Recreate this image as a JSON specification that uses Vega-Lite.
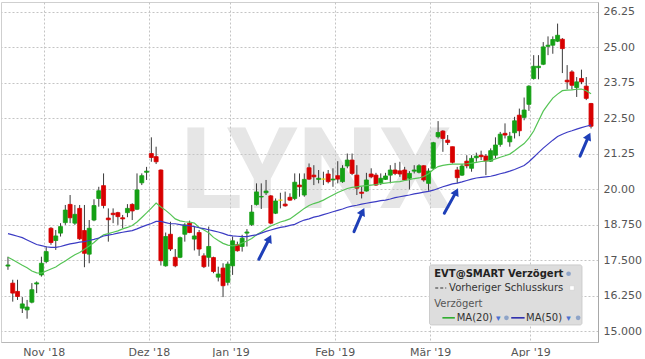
{
"$schema": "https://vega.github.io/schema/vega-lite/v6.json",
"width": 597, "height": 340,
"padding": {"left": 1, "top": 2, "right": 0, "bottom": 0},
"background": "white",
"config": {"view": {"stroke": "#cfcfcf", "strokeWidth": 1}, "font": "DejaVu Sans"},
"datasets": {
"candles": [
{"i":1,"o":17.30,"h":17.63,"l":17.17,"c":17.34,"ma20":17.61,"ma50":18.44},
{"i":2,"o":16.70,"h":16.82,"l":16.05,"c":16.35,"ma20":17.52,"ma50":18.40},
{"i":3,"o":16.41,"h":16.82,"l":16.11,"c":16.23,"ma20":17.43,"ma50":18.35},
{"i":4,"o":15.82,"h":16.21,"l":15.65,"c":15.97,"ma20":17.33,"ma50":18.30},
{"i":5,"o":15.76,"h":16.11,"l":15.45,"c":15.86,"ma20":17.24,"ma50":18.22},
{"i":6,"o":16.03,"h":16.70,"l":15.99,"c":16.47,"ma20":17.13,"ma50":18.14},
{"i":7,"o":16.67,"h":16.76,"l":16.35,"c":16.71,"ma20":17.06,"ma50":18.06},
{"i":8,"o":16.99,"h":17.63,"l":16.93,"c":17.40,"ma20":17.05,"ma50":18.02},
{"i":9,"o":17.46,"h":17.99,"l":17.40,"c":17.81,"ma20":17.13,"ma50":17.98},
{"i":10,"o":18.63,"h":18.67,"l":18.05,"c":18.13,"ma20":17.20,"ma50":17.96},
{"i":11,"o":18.20,"h":18.57,"l":17.87,"c":18.36,"ma20":17.27,"ma50":17.96},
{"i":12,"o":18.46,"h":18.81,"l":18.34,"c":18.69,"ma20":17.38,"ma50":17.99},
{"i":13,"o":18.83,"h":19.45,"l":18.75,"c":19.27,"ma20":17.48,"ma50":18.04},
{"i":14,"o":19.47,"h":19.80,"l":18.81,"c":19.00,"ma20":17.59,"ma50":18.08},
{"i":15,"o":18.81,"h":19.45,"l":18.75,"c":19.12,"ma20":17.70,"ma50":18.11},
{"i":16,"o":19.33,"h":19.45,"l":18.22,"c":18.26,"ma20":17.78,"ma50":18.14},
{"i":17,"o":18.55,"h":19.45,"l":17.26,"c":17.75,"ma20":17.89,"ma50":18.16},
{"i":18,"o":17.72,"h":18.92,"l":17.40,"c":18.63,"ma20":18.01,"ma50":18.20},
{"i":19,"o":18.92,"h":19.65,"l":18.88,"c":19.43,"ma20":18.13,"ma50":18.24},
{"i":20,"o":19.68,"h":20.09,"l":19.39,"c":19.95,"ma20":18.28,"ma50":18.29},
{"i":21,"o":20.13,"h":20.56,"l":19.33,"c":19.43,"ma20":18.40,"ma50":18.36},
{"i":22,"o":18.99,"h":19.33,"l":18.16,"c":18.93,"ma20":18.44,"ma50":18.39},
{"i":23,"o":19.16,"h":19.33,"l":18.81,"c":19.11,"ma20":18.49,"ma50":18.42},
{"i":24,"o":19.18,"h":19.21,"l":18.75,"c":19.04,"ma20":18.54,"ma50":18.46},
{"i":25,"o":19.00,"h":19.10,"l":18.63,"c":18.96,"ma20":18.61,"ma50":18.49},
{"i":26,"o":19.18,"h":19.48,"l":19.02,"c":19.33,"ma20":18.66,"ma50":18.52},
{"i":27,"o":19.47,"h":19.51,"l":18.92,"c":19.24,"ma20":18.73,"ma50":18.55},
{"i":28,"o":19.30,"h":20.56,"l":19.27,"c":19.98,"ma20":18.85,"ma50":18.61},
{"i":29,"o":20.23,"h":20.56,"l":20.15,"c":20.48,"ma20":19.01,"ma50":18.68},
{"i":30,"o":20.60,"h":20.79,"l":20.33,"c":20.64,"ma20":19.17,"ma50":18.74},
{"i":31,"o":21.26,"h":21.83,"l":20.97,"c":21.12,"ma20":19.34,"ma50":18.80},
{"i":32,"o":21.15,"h":21.50,"l":20.89,"c":20.97,"ma20":19.52,"ma50":18.87},
{"i":33,"o":20.68,"h":20.70,"l":17.32,"c":17.49,"ma20":19.38,"ma50":18.87},
{"i":34,"o":17.31,"h":18.48,"l":17.28,"c":18.34,"ma20":19.26,"ma50":18.83},
{"i":35,"o":18.42,"h":18.86,"l":17.83,"c":17.90,"ma20":19.12,"ma50":18.79},
{"i":36,"o":17.61,"h":17.90,"l":17.26,"c":17.31,"ma20":18.96,"ma50":18.79},
{"i":37,"o":17.61,"h":18.34,"l":17.58,"c":18.30,"ma20":18.89,"ma50":18.76},
{"i":38,"o":18.42,"h":18.81,"l":18.16,"c":18.75,"ma20":18.86,"ma50":18.73},
{"i":39,"o":18.81,"h":18.90,"l":18.46,"c":18.48,"ma20":18.85,"ma50":18.72},
{"i":40,"o":18.25,"h":18.69,"l":17.85,"c":18.36,"ma20":18.81,"ma50":18.69},
{"i":41,"o":18.48,"h":18.57,"l":17.66,"c":17.90,"ma20":18.66,"ma50":18.65},
{"i":42,"o":17.66,"h":17.75,"l":17.23,"c":17.28,"ma20":18.57,"ma50":18.62},
{"i":43,"o":17.61,"h":18.69,"l":17.28,"c":17.99,"ma20":18.47,"ma50":18.58},
{"i":44,"o":17.60,"h":17.63,"l":17.05,"c":17.11,"ma20":18.31,"ma50":18.54},
{"i":45,"o":16.91,"h":17.28,"l":16.76,"c":17.02,"ma20":18.20,"ma50":18.50},
{"i":46,"o":17.23,"h":17.40,"l":16.21,"c":16.61,"ma20":18.10,"ma50":18.45},
{"i":47,"o":16.73,"h":17.46,"l":16.62,"c":17.37,"ma20":18.04,"ma50":18.39},
{"i":48,"o":17.31,"h":18.34,"l":16.99,"c":18.19,"ma20":18.01,"ma50":18.36},
{"i":49,"o":18.05,"h":18.16,"l":17.81,"c":17.84,"ma20":18.04,"ma50":18.35},
{"i":50,"o":17.99,"h":18.40,"l":17.81,"c":18.28,"ma20":18.11,"ma50":18.34},
{"i":51,"o":18.46,"h":18.60,"l":17.99,"c":18.50,"ma20":18.18,"ma50":18.34},
{"i":52,"o":18.76,"h":19.45,"l":18.71,"c":19.20,"ma20":18.27,"ma50":18.37},
{"i":53,"o":19.47,"h":20.21,"l":19.43,"c":19.91,"ma20":18.40,"ma50":18.40},
{"i":54,"o":19.73,"h":20.21,"l":19.31,"c":19.75,"ma20":18.50,"ma50":18.46},
{"i":55,"o":19.88,"h":20.33,"l":19.80,"c":19.94,"ma20":18.61,"ma50":18.52},
{"i":56,"o":19.77,"h":19.80,"l":18.77,"c":18.81,"ma20":18.71,"ma50":18.57},
{"i":57,"o":19.16,"h":19.68,"l":19.13,"c":19.59,"ma20":18.78,"ma50":18.62},
{"i":58,"o":19.62,"h":19.88,"l":19.33,"c":19.62,"ma20":18.85,"ma50":18.66},
{"i":59,"o":19.48,"h":19.92,"l":19.39,"c":19.42,"ma20":18.90,"ma50":18.69},
{"i":60,"o":19.72,"h":19.86,"l":19.60,"c":19.62,"ma20":18.96,"ma50":18.73},
{"i":61,"o":19.68,"h":20.56,"l":19.62,"c":20.25,"ma20":19.08,"ma50":18.77},
{"i":62,"o":20.15,"h":20.56,"l":19.74,"c":20.09,"ma20":19.20,"ma50":18.85},
{"i":63,"o":19.80,"h":20.56,"l":19.74,"c":20.35,"ma20":19.33,"ma50":18.92},
{"i":64,"o":20.76,"h":20.91,"l":20.33,"c":20.36,"ma20":19.43,"ma50":18.96},
{"i":65,"o":20.50,"h":20.85,"l":20.15,"c":20.44,"ma20":19.50,"ma50":19.02},
{"i":66,"o":20.35,"h":20.68,"l":20.21,"c":20.39,"ma20":19.55,"ma50":19.06},
{"i":67,"o":20.36,"h":20.62,"l":20.15,"c":20.36,"ma20":19.62,"ma50":19.11},
{"i":68,"o":20.54,"h":20.68,"l":20.21,"c":20.27,"ma20":19.71,"ma50":19.16},
{"i":69,"o":20.33,"h":20.74,"l":20.09,"c":20.36,"ma20":19.80,"ma50":19.21},
{"i":70,"o":20.48,"h":20.99,"l":20.21,"c":20.36,"ma20":19.89,"ma50":19.26},
{"i":71,"o":20.27,"h":20.85,"l":20.23,"c":20.74,"ma20":19.96,"ma50":19.31},
{"i":72,"o":20.82,"h":21.26,"l":20.74,"c":21.03,"ma20":20.03,"ma50":19.37},
{"i":73,"o":21.03,"h":21.26,"l":20.50,"c":20.56,"ma20":20.07,"ma50":19.41},
{"i":74,"o":20.50,"h":20.85,"l":19.80,"c":20.04,"ma20":20.09,"ma50":19.44},
{"i":75,"o":19.90,"h":20.09,"l":19.68,"c":19.86,"ma20":20.11,"ma50":19.48},
{"i":76,"o":19.94,"h":20.58,"l":19.92,"c":20.33,"ma20":20.13,"ma50":19.51},
{"i":77,"o":20.54,"h":20.74,"l":20.39,"c":20.44,"ma20":20.15,"ma50":19.54},
{"i":78,"o":20.50,"h":20.58,"l":20.12,"c":20.15,"ma20":20.17,"ma50":19.57},
{"i":79,"o":20.23,"h":20.56,"l":20.15,"c":20.39,"ma20":20.20,"ma50":19.60},
{"i":80,"o":20.35,"h":20.58,"l":20.33,"c":20.47,"ma20":20.22,"ma50":19.62},
{"i":81,"o":20.50,"h":20.85,"l":20.21,"c":20.68,"ma20":20.24,"ma50":19.66},
{"i":82,"o":20.68,"h":20.93,"l":20.50,"c":20.56,"ma20":20.26,"ma50":19.71},
{"i":83,"o":20.65,"h":20.97,"l":20.44,"c":20.54,"ma20":20.27,"ma50":19.74},
{"i":84,"o":20.68,"h":20.79,"l":20.33,"c":20.33,"ma20":20.31,"ma50":19.77},
{"i":85,"o":20.39,"h":20.64,"l":20.00,"c":20.56,"ma20":20.34,"ma50":19.80},
{"i":86,"o":20.64,"h":20.85,"l":20.56,"c":20.68,"ma20":20.38,"ma50":19.84},
{"i":87,"o":20.60,"h":20.88,"l":20.56,"c":20.83,"ma20":20.40,"ma50":19.87},
{"i":88,"o":20.83,"h":20.85,"l":20.27,"c":20.33,"ma20":20.45,"ma50":19.90},
{"i":89,"o":20.21,"h":20.74,"l":19.95,"c":20.64,"ma20":20.55,"ma50":19.93},
{"i":90,"o":20.74,"h":21.67,"l":20.68,"c":21.64,"ma20":20.70,"ma50":19.97},
{"i":91,"o":21.85,"h":22.40,"l":21.79,"c":22.00,"ma20":20.80,"ma50":20.03},
{"i":92,"o":22.05,"h":22.08,"l":21.32,"c":21.79,"ma20":20.84,"ma50":20.09},
{"i":93,"o":21.73,"h":21.91,"l":21.56,"c":21.65,"ma20":20.87,"ma50":20.14},
{"i":94,"o":21.50,"h":21.50,"l":20.91,"c":20.95,"ma20":20.89,"ma50":20.19},
{"i":95,"o":20.68,"h":20.79,"l":20.21,"c":20.41,"ma20":20.89,"ma50":20.22},
{"i":96,"o":20.50,"h":20.89,"l":20.47,"c":20.82,"ma20":20.89,"ma50":20.26},
{"i":97,"o":20.99,"h":21.20,"l":20.74,"c":20.83,"ma20":20.90,"ma50":20.31},
{"i":98,"o":20.74,"h":21.20,"l":20.62,"c":21.09,"ma20":20.92,"ma50":20.36},
{"i":99,"o":21.11,"h":21.29,"l":20.97,"c":21.17,"ma20":20.95,"ma50":20.40},
{"i":100,"o":21.20,"h":21.36,"l":21.03,"c":21.15,"ma20":20.98,"ma50":20.42},
{"i":101,"o":21.17,"h":21.24,"l":20.50,"c":21.00,"ma20":20.99,"ma50":20.44},
{"i":102,"o":20.99,"h":21.44,"l":20.97,"c":21.36,"ma20":21.02,"ma50":20.46},
{"i":103,"o":21.20,"h":21.83,"l":21.09,"c":21.56,"ma20":21.07,"ma50":20.50},
{"i":104,"o":21.58,"h":22.02,"l":21.50,"c":21.94,"ma20":21.13,"ma50":20.55},
{"i":105,"o":21.97,"h":22.32,"l":21.79,"c":21.91,"ma20":21.18,"ma50":20.59},
{"i":106,"o":21.67,"h":22.02,"l":21.50,"c":21.87,"ma20":21.24,"ma50":20.64},
{"i":107,"o":21.99,"h":22.55,"l":21.79,"c":22.41,"ma20":21.36,"ma50":20.70},
{"i":108,"o":22.61,"h":22.84,"l":21.87,"c":22.06,"ma20":21.49,"ma50":20.77},
{"i":109,"o":22.53,"h":23.23,"l":22.43,"c":22.79,"ma20":21.61,"ma50":20.84},
{"i":110,"o":22.99,"h":23.66,"l":22.76,"c":23.63,"ma20":21.80,"ma50":20.97},
{"i":111,"o":23.90,"h":24.72,"l":23.86,"c":24.33,"ma20":22.05,"ma50":21.13},
{"i":112,"o":24.28,"h":24.72,"l":23.87,"c":24.33,"ma20":22.40,"ma50":21.29},
{"i":113,"o":24.40,"h":25.18,"l":24.37,"c":25.01,"ma20":22.75,"ma50":21.45},
{"i":114,"o":25.03,"h":25.38,"l":24.72,"c":25.07,"ma20":22.99,"ma50":21.59},
{"i":115,"o":25.07,"h":25.38,"l":24.77,"c":25.27,"ma20":23.21,"ma50":21.73},
{"i":116,"o":25.21,"h":25.83,"l":25.18,"c":25.42,"ma20":23.35,"ma50":21.86},
{"i":117,"o":25.28,"h":25.32,"l":24.09,"c":24.95,"ma20":23.47,"ma50":21.94},
{"i":118,"o":23.84,"h":24.37,"l":23.52,"c":23.78,"ma20":23.49,"ma50":22.01},
{"i":119,"o":24.13,"h":24.19,"l":23.51,"c":23.66,"ma20":23.50,"ma50":22.06},
{"i":120,"o":23.58,"h":23.95,"l":23.25,"c":23.78,"ma20":23.52,"ma50":22.12},
{"i":121,"o":23.90,"h":24.21,"l":23.70,"c":23.78,"ma20":23.53,"ma50":22.17},
{"i":122,"o":23.63,"h":23.95,"l":23.14,"c":23.20,"ma20":23.47,"ma50":22.22},
{"i":123,"o":23.02,"h":23.04,"l":22.14,"c":22.22,"ma20":23.36,"ma50":22.26}
],
"arrows": [
{"x0":53.5,"y0":17.54,"x1":55.7,"y1":18.27},
{"x0":73.4,"y0":18.51,"x1":75.2,"y1":19.22},
{"x0":92.3,"y0":19.16,"x1":94.8,"y1":19.92},
{"x0":120.7,"y0":21.17,"x1":122.5,"y1":21.87}
],
"one": [{}]
},
"layer": [
{"data": {"name": "candles"},
 "mark": {"type": "rule", "color": "#3a3a3a", "strokeWidth": 1, "opacity": 0},
 "encoding": {
  "x": {"field": "i", "type": "quantitative", "title": null, "scale": {"domain": [0.5885, 123.41], "nice": false, "zero": false},
   "axis": {"title": null, "values": [8.47, 30.48, 47.56, 69.36, 89.32, 110.31], "tickCount": 20,
    "labelExpr": "datum.value < 20 ? \"Nov '18\" : datum.value < 40 ? \"Dez '18\" : datum.value < 60 ? \"Jan '19\" : datum.value < 80 ? \"Feb '19\" : datum.value < 100 ? \"Mär '19\" : \"Apr '19\"",
    "grid": true, "gridDash": [2, 2], "gridColor": "#c4c4c4", "ticks": false, "domain": true, "domainColor": "#b8b8b8",
    "labelFont": "DejaVu Sans", "labelFontSize": 11, "labelColor": "#555555", "labelPadding": 4, "labelOverlap": false}},
  "y": {"field": "l", "type": "quantitative", "title": null, "scale": {"domain": [14.63, 26.59], "nice": false, "zero": false},
   "axis": {"title": null, "orient": "right", "values": [15, 16.25, 17.5, 18.75, 20, 21.25, 22.5, 23.75, 25, 26.25], "tickCount": 20,
    "labelExpr": "datum.value >= 20 ? format(datum.value, '.2f') : format(datum.value, '.3f')",
    "grid": true, "gridDash": [2, 2], "gridColor": "#c4c4c4", "ticks": false, "domain": true, "domainColor": "#a8a8a8",
    "labelFont": "DejaVu Sans", "labelFontSize": 11, "labelColor": "#555555", "labelPadding": 5, "labelOverlap": false, "labelBound": false}},
  "y2": {"field": "h"}}},
{"data": {"name": "one"},
 "mark": {"type": "text", "text": "LYNX", "font": "Roboto", "fontWeight": "bold", "fontSize": 114, "color": "#c8c8c8", "opacity": 0.45, "align": "center", "baseline": "alphabetic"},
 "encoding": {"x": {"datum": 65.4, "type": "quantitative"}, "y": {"datum": 19.34, "type": "quantitative"}}},
{"data": {"name": "candles"},
 "mark": {"type": "rule", "color": "#3a3a3a", "strokeWidth": 1},
 "encoding": {
  "x": {"field": "i", "type": "quantitative", "title": null},
  "y": {"field": "l", "type": "quantitative", "title": null},
  "y2": {"field": "h"}}},
{"data": {"name": "candles"},
 "mark": {"type": "bar", "width": 4, "strokeWidth": 0.8},
 "encoding": {
  "x": {"field": "i", "type": "quantitative", "title": null},
  "y": {"field": "o", "type": "quantitative", "title": null},
  "y2": {"field": "c"},
  "color": {"condition": [{"test": "datum.c > datum.o", "value": "#14a014"}, {"test": "datum.c == datum.o", "value": "#e8d800"}], "value": "#d80000"},
  "stroke": {"condition": [{"test": "datum.c > datum.o", "value": "#14a014"}, {"test": "datum.c == datum.o", "value": "#e8d800"}], "value": "#d80000"}}},
{"data": {"name": "candles"},
 "mark": {"type": "line", "color": "#55c455", "strokeWidth": 1.2},
 "encoding": {"x": {"field": "i", "type": "quantitative", "title": null}, "y": {"field": "ma20", "type": "quantitative", "title": null}}},
{"data": {"name": "candles"},
 "mark": {"type": "line", "color": "#3c3cc4", "strokeWidth": 1.2},
 "encoding": {"x": {"field": "i", "type": "quantitative", "title": null}, "y": {"field": "ma50", "type": "quantitative", "title": null}}},
{"data": {"name": "arrows"},
 "mark": {"type": "rule", "color": "#1e3fb8", "strokeWidth": 3, "strokeCap": "round"},
 "encoding": {"x": {"field": "x0", "type": "quantitative", "title": null}, "x2": {"field": "x1"}, "y": {"field": "y0", "type": "quantitative", "title": null}, "y2": {"field": "y1"}}},
{"data": {"name": "arrows"},
 "mark": {"type": "point", "shape": "triangle-up", "filled": true, "size": 80, "angle": 26, "color": "#1e3fb8", "opacity": 1},
 "encoding": {"x": {"field": "x1", "type": "quantitative", "title": null}, "y": {"field": "y1", "type": "quantitative", "title": null}}},
{"data": {"name": "one"},
 "mark": {"type": "rect", "fill": "#dddddd", "stroke": "#cccccc", "strokeWidth": 1, "cornerRadius": 2},
 "encoding": {"x": {"datum": 89.2, "type": "quantitative"}, "x2": {"datum": 121.1}, "y": {"datum": 17.34, "type": "quantitative"}, "y2": {"datum": 15.23}}},
{"data": {"name": "one"},
 "mark": {"type": "text", "text": "EVT@SMART Verzögert", "font": "DejaVu Sans", "fontWeight": "bold", "fontSize": 10, "color": "#222222", "align": "left", "baseline": "middle"},
 "encoding": {"x": {"datum": 90.2, "type": "quantitative"}, "y": {"datum": 17.03, "type": "quantitative"}}},
{"data": {"name": "one"},
 "mark": {"type": "point", "shape": "circle", "filled": true, "size": 22, "color": "#8ea4c8", "opacity": 1},
 "encoding": {"x": {"datum": 118.3, "type": "quantitative"}, "y": {"datum": 17.03, "type": "quantitative"}}},
{"data": {"name": "one"},
 "mark": {"type": "rule", "color": "#333333", "strokeWidth": 1.2, "strokeDash": [3, 2]},
 "encoding": {"x": {"datum": 90.4, "type": "quantitative"}, "x2": {"datum": 92.7}, "y": {"datum": 16.53, "type": "quantitative"}}},
{"data": {"name": "one"},
 "mark": {"type": "text", "text": "Vorheriger Schlusskurs", "font": "DejaVu Sans", "fontSize": 10, "color": "#333333", "align": "left", "baseline": "middle"},
 "encoding": {"x": {"datum": 93.3, "type": "quantitative"}, "y": {"datum": 16.53, "type": "quantitative"}}},
{"data": {"name": "one"},
 "mark": {"type": "point", "shape": "square", "filled": true, "size": 20, "color": "#ffffff", "stroke": "#cccccc", "strokeWidth": 0.5, "opacity": 1},
 "encoding": {"x": {"datum": 119.0, "type": "quantitative"}, "y": {"datum": 16.53, "type": "quantitative"}}},
{"data": {"name": "one"},
 "mark": {"type": "text", "text": "Verzögert", "font": "DejaVu Sans", "fontSize": 10, "color": "#555555", "align": "left", "baseline": "middle"},
 "encoding": {"x": {"datum": 90.2, "type": "quantitative"}, "y": {"datum": 15.97, "type": "quantitative"}}},
{"data": {"name": "one"},
 "mark": {"type": "rule", "color": "#22aa22", "strokeWidth": 1.5},
 "encoding": {"x": {"datum": 91.9, "type": "quantitative"}, "x2": {"datum": 94.5}, "y": {"datum": 15.48, "type": "quantitative"}}},
{"data": {"name": "one"},
 "mark": {"type": "text", "text": "MA(20)", "font": "DejaVu Sans", "fontSize": 10, "color": "#333333", "align": "left", "baseline": "middle"},
 "encoding": {"x": {"datum": 94.9, "type": "quantitative"}, "y": {"datum": 15.48, "type": "quantitative"}}},
{"data": {"name": "one"},
 "mark": {"type": "text", "text": "▾", "font": "DejaVu Sans", "fontSize": 9, "color": "#4a6fd0", "align": "center", "baseline": "middle"},
 "encoding": {"x": {"datum": 103.6, "type": "quantitative"}, "y": {"datum": 15.48, "type": "quantitative"}}},
{"data": {"name": "one"},
 "mark": {"type": "point", "shape": "circle", "filled": true, "size": 22, "color": "#8ea4c8", "opacity": 1},
 "encoding": {"x": {"datum": 105.3, "type": "quantitative"}, "y": {"datum": 15.48, "type": "quantitative"}}},
{"data": {"name": "one"},
 "mark": {"type": "rule", "color": "#2222aa", "strokeWidth": 1.5},
 "encoding": {"x": {"datum": 106.3, "type": "quantitative"}, "x2": {"datum": 109.1}, "y": {"datum": 15.48, "type": "quantitative"}}},
{"data": {"name": "one"},
 "mark": {"type": "text", "text": "MA(50)", "font": "DejaVu Sans", "fontSize": 10, "color": "#333333", "align": "left", "baseline": "middle"},
 "encoding": {"x": {"datum": 109.4, "type": "quantitative"}, "y": {"datum": 15.48, "type": "quantitative"}}},
{"data": {"name": "one"},
 "mark": {"type": "text", "text": "▾", "font": "DejaVu Sans", "fontSize": 9, "color": "#4a6fd0", "align": "center", "baseline": "middle"},
 "encoding": {"x": {"datum": 118.3, "type": "quantitative"}, "y": {"datum": 15.48, "type": "quantitative"}}},
{"data": {"name": "one"},
 "mark": {"type": "point", "shape": "circle", "filled": true, "size": 22, "color": "#8ea4c8", "opacity": 1},
 "encoding": {"x": {"datum": 120.3, "type": "quantitative"}, "y": {"datum": 15.48, "type": "quantitative"}}}
]
}
